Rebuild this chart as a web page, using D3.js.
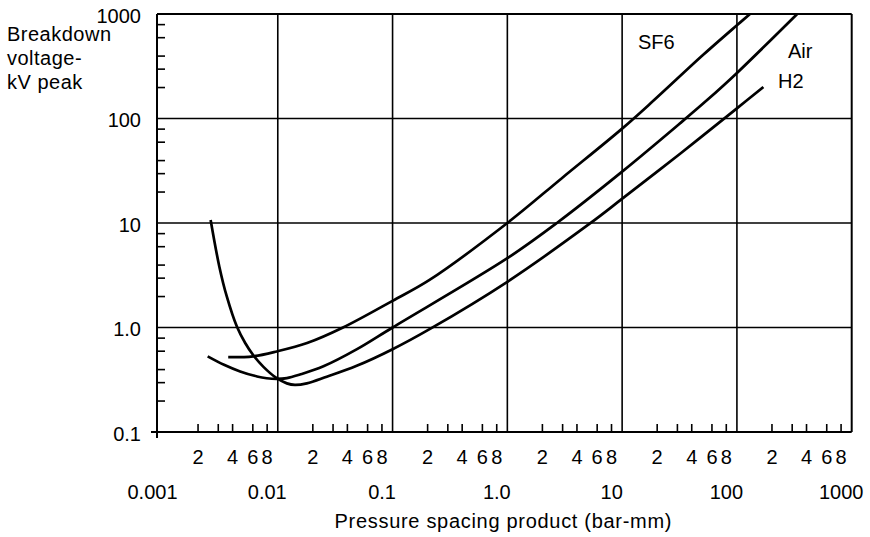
<!DOCTYPE html>
<html>
<head>
<meta charset="utf-8">
<script src="https://cdn.jsdelivr.net/npm/d3@7"></script>
<style>
  body { margin: 0; background: #fff; }
  svg { display: block; }
  text { font-family: "Liberation Sans", Arial, Helvetica, sans-serif; fill: #000; }
</style>
</head>
<body>
<svg id="chart" width="870" height="537"></svg>
<script>
// Breakdown voltage (kV peak) against pressure-spacing product (bar-mm)
const sf6Pd = [0.0037, 0.0061, 0.0098, 0.018, 0.037, 0.1, 0.21, 1.0, 3.0, 10, 19, 50, 100, 130];
const sf6Kv = [0.52, 0.53, 0.59, 0.71, 1.0, 1.8, 2.85, 10, 27, 80, 150, 400, 780, 1000];

const airPd = [0.00245, 0.0034, 0.0047, 0.0066, 0.008, 0.0098, 0.012, 0.0156, 0.025, 0.049, 0.1, 1.0, 2.7, 10, 32, 55, 98, 335];
const airKv = [0.53, 0.44, 0.38, 0.34, 0.327, 0.322, 0.328, 0.355, 0.425, 0.62, 1.0, 4.6, 10, 31, 90, 150, 267, 1000];

const h2Pd = [0.0026, 0.0031, 0.0036, 0.0044, 0.0052, 0.0061, 0.0075, 0.0098, 0.012, 0.0141, 0.0179, 0.0267, 0.0487, 0.1, 0.212, 1.0, 5.25, 9.9, 32, 100, 170];
const h2Kv = [10.7, 3.8, 1.97, 1.02, 0.71, 0.545, 0.42, 0.327, 0.292, 0.282, 0.292, 0.338, 0.43, 0.62, 0.97, 2.74, 9.9, 16.9, 46, 125, 200];

const seriesNames = ["SF6", "Air", "H2"];

const xDecades = [0.001, 0.01, 0.1, 1, 10, 100, 1000];
const xDecadeLabels = ["0.001", "0.01", "0.1", "1.0", "10", "100", "1000"];
const yDecades = [0.1, 1, 10, 100, 1000];
const yDecadeLabels = ["0.1", "1.0", "10", "100", "1000"];
const minorSteps = [2, 3, 4, 6, 8];
const minorLabelled = [2, 4, 6, 8];
const yTitleLines = ["Breakdown", "voltage-", "kV peak"];
const xTitle = "Pressure spacing product (bar-mm)";

const svg = d3.select("#chart");

const x = d3.scaleLog().domain([0.001, 1000]).range([163, 851.7]);
const y = d3.scaleLog().domain([0.1, 1000]).range([432, 14]);

const [xL, xR] = x.range();
const [yB, yT] = y.range();
const axisX = xL - 6;          // vertical axis line sits just left of the first decade
const tickLen = 8;

// minor tick values for each decade
const xMinor = xDecades.slice(0, -1).flatMap(d => minorSteps.map(k => d * k));
const yMinor = yDecades.slice(0, -1).flatMap(d => minorSteps.map(k => d * k));

const frame = svg.append("g").attr("stroke", "#000").attr("fill", "none");

// grid lines at inner decades
frame.selectAll(".vgrid").data(xDecades.slice(1, -1)).join("line")
  .attr("x1", d => x(d)).attr("x2", d => x(d))
  .attr("y1", yT).attr("y2", yB)
  .attr("stroke-width", 1.6);
frame.selectAll(".hgrid").data(yDecades.slice(1, -1)).join("line")
  .attr("x1", axisX).attr("x2", xR)
  .attr("y1", d => y(d)).attr("y2", d => y(d))
  .attr("stroke-width", 1.6);

// border and axes
frame.append("line").attr("x1", axisX).attr("x2", xR).attr("y1", yT).attr("y2", yT).attr("stroke-width", 2);
frame.append("line").attr("x1", xR).attr("x2", xR).attr("y1", yT).attr("y2", yB).attr("stroke-width", 2);
frame.append("line").attr("x1", axisX - 6).attr("x2", xR).attr("y1", yB).attr("y2", yB).attr("stroke-width", 2);
frame.append("line").attr("x1", axisX).attr("x2", axisX).attr("y1", yT).attr("y2", yB + 6).attr("stroke-width", 2);

// minor ticks pointing into the plot
const xAxisMinor = d3.axisBottom(x).tickValues(xMinor).tickSizeInner(-tickLen).tickSizeOuter(0)
  .tickPadding(18)
  .tickFormat(d => {
    const k = Math.round(d / Math.pow(10, Math.floor(Math.log10(d) + 1e-9)));
    return minorLabelled.includes(k) ? String(k) : "";
  });
const gx = svg.append("g").attr("transform", `translate(0,${yB})`).call(xAxisMinor);
gx.select(".domain").remove();
gx.selectAll(".tick line").attr("stroke", "#000").attr("stroke-width", 1.6);
gx.selectAll(".tick text").attr("font-size", 20).attr("dy", "0.71em")
  .attr("font-family", '"Liberation Sans", Arial, sans-serif').attr("fill", "#000");

// decade labels along the bottom
const xAxisMajor = d3.axisBottom(x).tickValues(xDecades).tickSize(0).tickPadding(53)
  .tickFormat((d, i) => xDecadeLabels[i]);
const gxm = svg.append("g").attr("transform", `translate(0,${yB})`).call(xAxisMajor);
gxm.select(".domain").remove();
gxm.selectAll(".tick text").attr("font-size", 20).attr("dx", -11).attr("dy", "0.71em")
  .attr("font-family", '"Liberation Sans", Arial, sans-serif').attr("fill", "#000");

// left axis: minor ticks inward, decade labels outside
const yAxisMinor = d3.axisRight(y).tickValues(yMinor).tickSizeInner(tickLen).tickSizeOuter(0).tickFormat("");
const gy = svg.append("g").attr("transform", `translate(${axisX},0)`).call(yAxisMinor);
gy.select(".domain").remove();
gy.selectAll(".tick line").attr("stroke", "#000").attr("stroke-width", 1.6);

const yAxisMajor = d3.axisLeft(y).tickValues(yDecades).tickSize(0).tickPadding(16)
  .tickFormat((d, i) => yDecadeLabels[i]);
const gym = svg.append("g").attr("transform", `translate(${axisX},0)`).call(yAxisMajor);
gym.select(".domain").remove();
gym.selectAll(".tick text").attr("font-size", 20).attr("dy", "0.42em")
  .attr("font-family", '"Liberation Sans", Arial, sans-serif').attr("fill", "#000");

// titles
svg.append("text").attr("x", (xL + xR) / 2 - 4).attr("y", 528).attr("text-anchor", "middle")
  .attr("font-size", 20).attr("letter-spacing", 0.7).text(xTitle);
svg.append("g").selectAll("text").data(yTitleLines).join("text")
  .attr("x", 7).attr("y", (d, i) => 40.5 + i * 24)
  .attr("font-size", 20).attr("letter-spacing", 0.5).text(d => d);

// curves
const seriesData = [
  sf6Pd.map((p, i) => [p, sf6Kv[i]]),
  airPd.map((p, i) => [p, airKv[i]]),
  h2Pd.map((p, i) => [p, h2Kv[i]])
];
const line = d3.line().x(d => x(d[0])).y(d => y(d[1])).curve(d3.curveCatmullRom.alpha(0.5));
svg.append("g").selectAll("path").data(seriesData).join("path")
  .attr("d", line).attr("fill", "none").attr("stroke", "#000")
  .attr("stroke-width", 2.7).attr("stroke-linejoin", "round");

// series names beside the upper ends of the curves
const nameSpots = [[638, 49], [788, 58], [778, 88]];
svg.append("g").selectAll("text").data(seriesNames).join("text")
  .attr("x", (d, i) => nameSpots[i][0]).attr("y", (d, i) => nameSpots[i][1])
  .attr("font-size", 20).text(d => d);
</script>
</body>
</html>
